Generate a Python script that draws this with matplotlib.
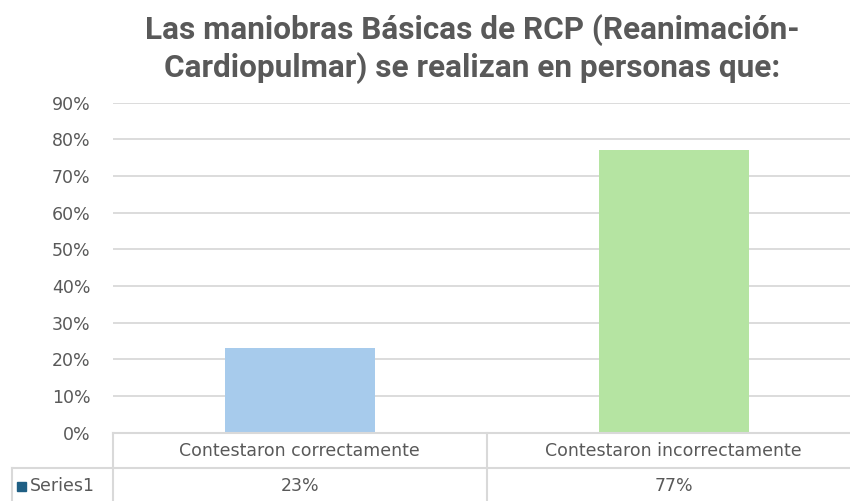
import matplotlib.pyplot as plt
import numpy as np

categories = ["Contestaron correctamente", "Contestaron incorrectamente"]
values = [0.23, 0.77]
value_labels = ["23%", "77%"]
series_name = "Series1"
bar_colors = ["#A7CBEC", "#B5E4A2"]
title = "Las maniobras Básicas de RCP (Reanimación-\nCardiopulmar) se realizan en personas que:"

gray = "#595959"
grid = "#D9D9D9"

W, H = 850, 501
fig = plt.figure(figsize=(W / 100, H / 100), dpi=100)

# plot area in pixels (the right edge runs off the picture like in the source)
left, right = 112.7, 860.7
y0, y90 = 432.7, 102.7
ax = fig.add_axes([left / W, 1 - y0 / H, (right - left) / W, (y0 - y90) / H])

x = np.arange(len(categories))
ax.bar(x, values, width=0.401, color=bar_colors, zorder=3)
ax.set_xlim(-0.5, len(categories) - 0.5)
ax.set_ylim(0, 0.9)
yt = np.arange(0, 0.91, 0.1)
ax.set_yticks(yt)
ax.set_yticklabels(["{:.0f}%".format(v * 100) for v in yt], color=gray, fontsize=12.5)
ax.tick_params(axis="y", length=0, pad=16)
ax.set_xticks([])
ax.grid(axis="y", color=grid, linewidth=1.3, zorder=0)
for s in ax.spines.values():
    s.set_visible(False)

# data table below the axis
row1, row2, bottom = 433.3, 468.0, 503.0
line_kw = dict(color=grid, linewidth=1.5, transform=fig.transFigure, clip_on=False)
fig.add_artist(plt.Line2D([left / W, 1], [1 - row1 / H] * 2, **line_kw))
fig.add_artist(plt.Line2D([12 / W, 1], [1 - row2 / H] * 2, **line_kw))
fig.add_artist(plt.Line2D([left / W] * 2, [1 - row1 / H, 1 - bottom / H], **line_kw))
fig.add_artist(plt.Line2D([12 / W] * 2, [1 - row2 / H, 1 - bottom / H], **line_kw))
cw = (right - left) / len(categories)
for i in range(1, len(categories)):
    xb = left + cw * i
    fig.add_artist(plt.Line2D([xb / W] * 2, [1 - row1 / H, 1 - bottom / H], **line_kw))

for i, (c, v) in enumerate(zip(categories, value_labels)):
    xc = ax.transData.transform((i, 0))[0] / W
    fig.text(xc, 1 - 451 / H, c, ha="center", va="center", color=gray, fontsize=12.5)
    fig.text(xc, 1 - 486 / H, v, ha="center", va="center", color=gray, fontsize=12.5)

fig.add_artist(plt.Rectangle((17 / W, 1 - 491 / H), 9 / W, 9 / H, color="#1F5F84",
                             transform=fig.transFigure))
fig.text(30 / W, 1 - 486 / H, series_name, ha="left", va="center", color=gray, fontsize=12.5)

fig.text(472 / W, 1 - 49 / H, title, ha="center", va="center", color=gray,
         fontsize=22.7, fontweight="bold", family="Roboto", linespacing=1.25)

fig.savefig("out.png", dpi=100)
